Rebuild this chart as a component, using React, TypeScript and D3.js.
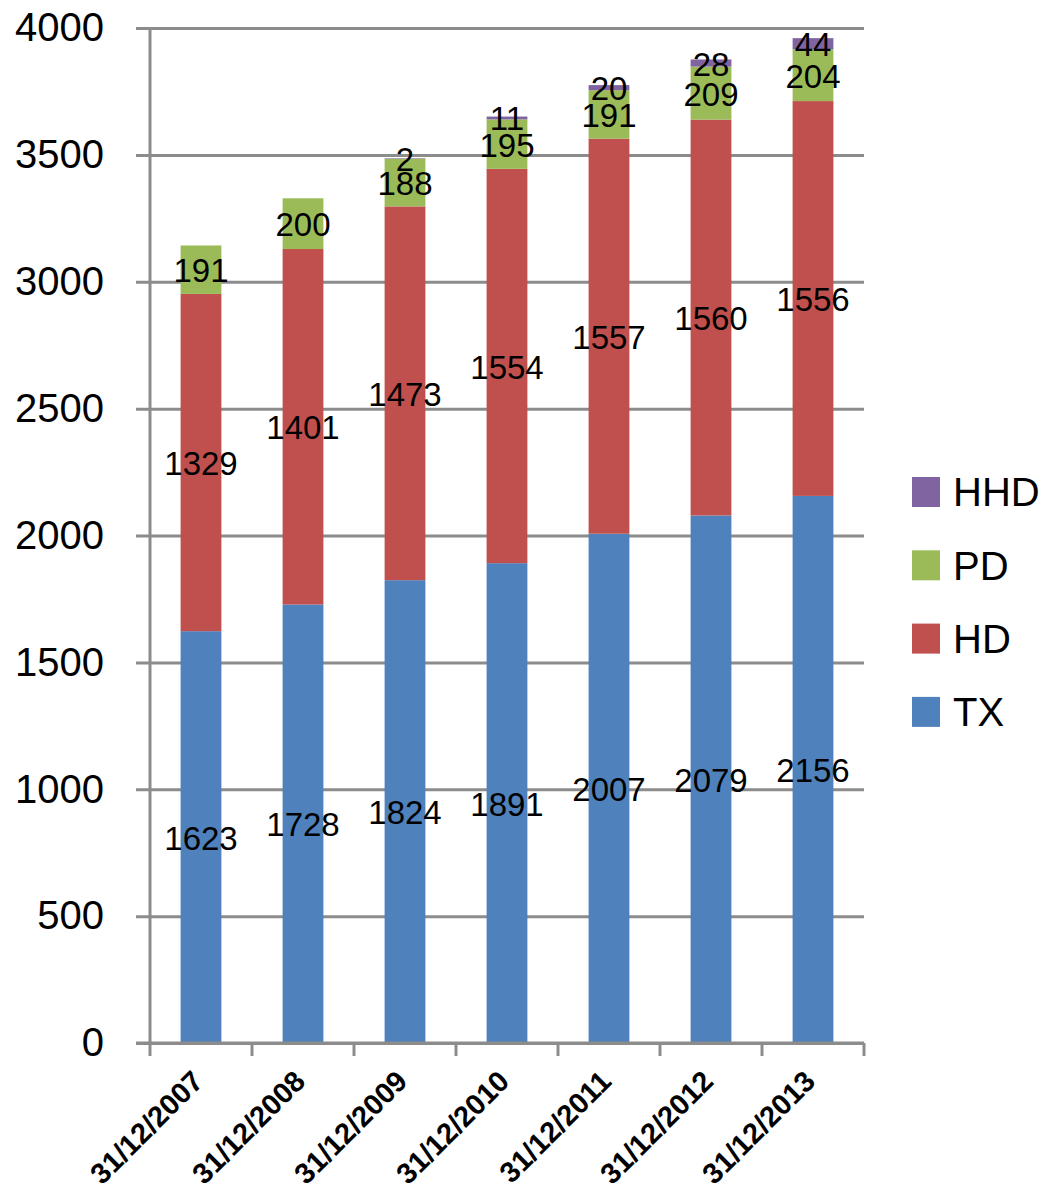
import { useEffect, useRef } from 'react';
import { axisLeft, scaleBand, scaleLinear, select, stack } from 'd3';

const categories = ['31/12/2007', '31/12/2008', '31/12/2009', '31/12/2010', '31/12/2011', '31/12/2012', '31/12/2013'];
const seriesNames = ['TX', 'HD', 'PD', 'HHD'];
const txValues = [1623, 1728, 1824, 1891, 2007, 2079, 2156];
const hdValues = [1329, 1401, 1473, 1554, 1557, 1560, 1556];
const pdValues = [191, 200, 188, 195, 191, 209, 204];
const hhdValues = [0, 0, 2, 11, 20, 28, 44];
const yTicks = [0, 500, 1000, 1500, 2000, 2500, 3000, 3500, 4000];
const colors = ['#4F81BD', '#C0504D', '#9BBB59', '#8064A2'];

export default function App() {
  const svgRef = useRef<SVGSVGElement>(null);

  useEffect(() => {
    const width = 1043;
    const height = 1196;
    const margin = { top: 28, left: 150, right: 864, bottom: 1043 };
    const font = '"Liberation Sans", Arial, sans-serif';
    const gridColor = '#8C8C8C';

    const svg = select(svgRef.current);
    svg.selectAll('*').remove();
    svg.attr('width', width).attr('height', height);

    const rows = categories.map((c, i) => ({
      name: c,
      TX: txValues[i],
      HD: hdValues[i],
      PD: pdValues[i],
      HHD: hhdValues[i],
    }));

    const x = scaleBand().domain(categories).range([margin.left, margin.right]).paddingInner(0.6).paddingOuter(0.3);
    const y = scaleLinear().domain([0, 4000]).range([margin.bottom, margin.top]);

    // gridlines + y labels
    const yAxis = svg
      .append('g')
      .attr('transform', `translate(${margin.left},0)`)
      .call(
        axisLeft(y)
          .tickValues(yTicks)
          .tickFormat((d) => String(d))
          .tickSize(-(margin.right - margin.left))
          .tickSizeOuter(0)
          .tickPadding(46)
      );
    yAxis.select('.domain').remove();
    yAxis.selectAll('.tick line').attr('stroke', gridColor).attr('stroke-width', 3).attr('x1', -14);
    yAxis
      .selectAll('.tick text')
      .attr('fill', '#000')
      .attr('font-size', 40)
      .attr('font-family', font);

    const series = stack<any>().keys(seriesNames)(rows);

    const groups = svg
      .selectAll('g.series')
      .data(series)
      .enter()
      .append('g')
      .attr('class', 'series')
      .attr('fill', (_, i) => colors[i]);

    groups
      .selectAll('rect')
      .data((d) => d.filter((p) => p[1] - p[0] > 0))
      .enter()
      .append('rect')
      .attr('x', (d) => x(d.data.name)!)
      .attr('width', x.bandwidth())
      .attr('y', (d) => y(d[1]))
      .attr('height', (d) => y(d[0]) - y(d[1]));

    // data labels, centred on each segment
    groups
      .selectAll('text')
      .data((d) => d.filter((p) => p[1] - p[0] > 0))
      .enter()
      .append('text')
      .attr('x', (d) => x(d.data.name)! + x.bandwidth() / 2)
      .attr('y', (d) => y((d[0] + d[1]) / 2))
      .attr('dy', '0.38em')
      .attr('text-anchor', 'middle')
      .attr('fill', '#000')
      .attr('font-size', 33)
      .attr('font-family', font)
      .text((d) => d[1] - d[0]);

    // axes lines
    svg
      .append('line')
      .attr('x1', margin.left)
      .attr('x2', margin.left)
      .attr('y1', margin.top)
      .attr('y2', margin.bottom + 1)
      .attr('stroke', gridColor)
      .attr('stroke-width', 3);
    svg
      .append('line')
      .attr('x1', margin.left - 14)
      .attr('x2', margin.right)
      .attr('y1', margin.bottom)
      .attr('y2', margin.bottom)
      .attr('stroke', gridColor)
      .attr('stroke-width', 3);

    const step = x.step();
    const boundaries = [...categories.map((c) => x(c)! - (step - x.bandwidth()) / 2), margin.right];
    svg
      .selectAll('line.xtick')
      .data(boundaries)
      .enter()
      .append('line')
      .attr('class', 'xtick')
      .attr('x1', (d) => d)
      .attr('x2', (d) => d)
      .attr('y1', margin.bottom)
      .attr('y2', margin.bottom + 13)
      .attr('stroke', gridColor)
      .attr('stroke-width', 3);

    svg
      .selectAll('text.xlabel')
      .data(categories)
      .enter()
      .append('text')
      .attr('class', 'xlabel')
      .attr('transform', (d) => `translate(${x(d)! + x.bandwidth() / 2 + 4},${margin.bottom + 40}) rotate(-45)`)
      .attr('text-anchor', 'end')
      .attr('font-size', 29)
      .attr('font-weight', 'bold')
      .attr('font-family', font)
      .text((d) => d);

    // legend
    const legendItems = seriesNames.map((s, i) => ({ name: s, color: colors[i] })).reverse();
    const legend = svg
      .selectAll('g.legend')
      .data(legendItems)
      .enter()
      .append('g')
      .attr('class', 'legend')
      .attr('transform', (_, i) => `translate(912, ${492 + i * 73.3})`);
    legend
      .append('rect')
      .attr('x', 0)
      .attr('y', -15)
      .attr('width', 28)
      .attr('height', 30)
      .attr('fill', (d) => d.color);
    legend
      .append('text')
      .attr('x', 41)
      .attr('dy', '0.36em')
      .attr('font-size', 40)
      .attr('font-family', font)
      .text((d) => d.name);
  }, []);

  return (
    <div>
      <svg ref={svgRef} style={{ position: 'absolute', left: 0, top: 0 }}></svg>
    </div>
  );
}
